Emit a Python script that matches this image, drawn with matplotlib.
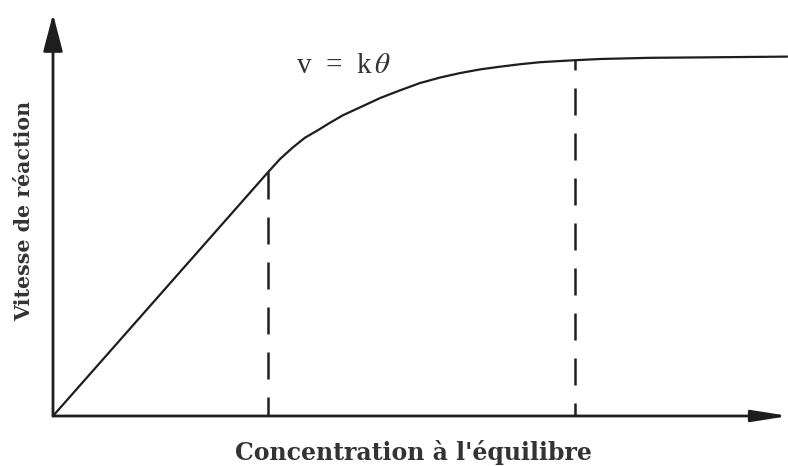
import matplotlib
matplotlib.use("Agg")
import matplotlib.pyplot as plt

# values (arbitrary units, each axis arrow = 10)
conc = [0.0, 2.94, 3.10, 3.27, 3.44, 3.62, 3.78, 3.96, 4.15, 4.47, 4.74, 5.01,
        5.29, 5.56, 5.83, 6.11, 6.38, 6.65, 6.93, 7.13, 7.47, 8.16, 8.84, 10.04]
rate = [0.0, 6.07, 6.39, 6.67, 6.92, 7.11, 7.29, 7.48, 7.64, 7.91, 8.10, 8.28,
        8.42, 8.53, 8.62, 8.69, 8.75, 8.80, 8.83, 8.85, 8.88, 8.91, 8.92, 8.94]
marks = [1, 19]  # indices where the dashed guides meet the curve

label_x = "Concentration à l'équilibre"
label_y = "Vitesse de réaction"
curve_label = r"v  =  k$\,\theta$"

plt.rcParams['font.family'] = ['Liberation Serif', 'DejaVu Serif']
plt.rcParams['mathtext.fontset'] = 'stix'

fig = plt.figure(figsize=(7.88, 4.66), dpi=100)
ax = fig.add_axes([0, 0, 1, 1])
ax.set_xlim(-0.724, 10.041)
ax.set_ylim(-1.244, 10.348)
ax.axis('off')

ink = '#1e1e1e'

# axes with arrow heads
ax.annotate('', xy=(0, 10), xytext=(0, 0), annotation_clip=False,
            arrowprops=dict(arrowstyle='-|>,head_length=2.3,head_width=0.6',
                            color=ink, lw=2, shrinkA=0, shrinkB=0))
ax.annotate('', xy=(10.05, 0), xytext=(0, 0), annotation_clip=False,
            arrowprops=dict(arrowstyle='-|>,head_length=2.2,head_width=0.35',
                            color=ink, lw=2, shrinkA=0, shrinkB=0))

# rate curve
ax.plot(conc, rate, color=ink, lw=1.6, solid_joinstyle='round',
        solid_capstyle='butt', clip_on=False)

# dashed guides, drawn from the curve down to the axis
offsets = [0, 6.8]
for i, off in zip(marks, offsets):
    ax.plot([conc[i], conc[i]], [rate[i], 0], color=ink, lw=1.8,
            linestyle=(off, (10.8, 7.2)), dash_capstyle='butt')

ax.text(3.96, 8.71, curve_label, fontsize=21, color='#333333',
        ha='center', va='center')
ax.text(4.93, -0.90, label_x, fontsize=17, fontweight='bold',
        family='DejaVu Serif', color='#333333', ha='center', va='center')
ax.text(-0.40, 5.10, label_y, fontsize=14.8, fontweight='bold',
        family='DejaVu Serif', color='#333333', ha='center', va='center',
        rotation=90)

fig.savefig('out.png', dpi=100)
